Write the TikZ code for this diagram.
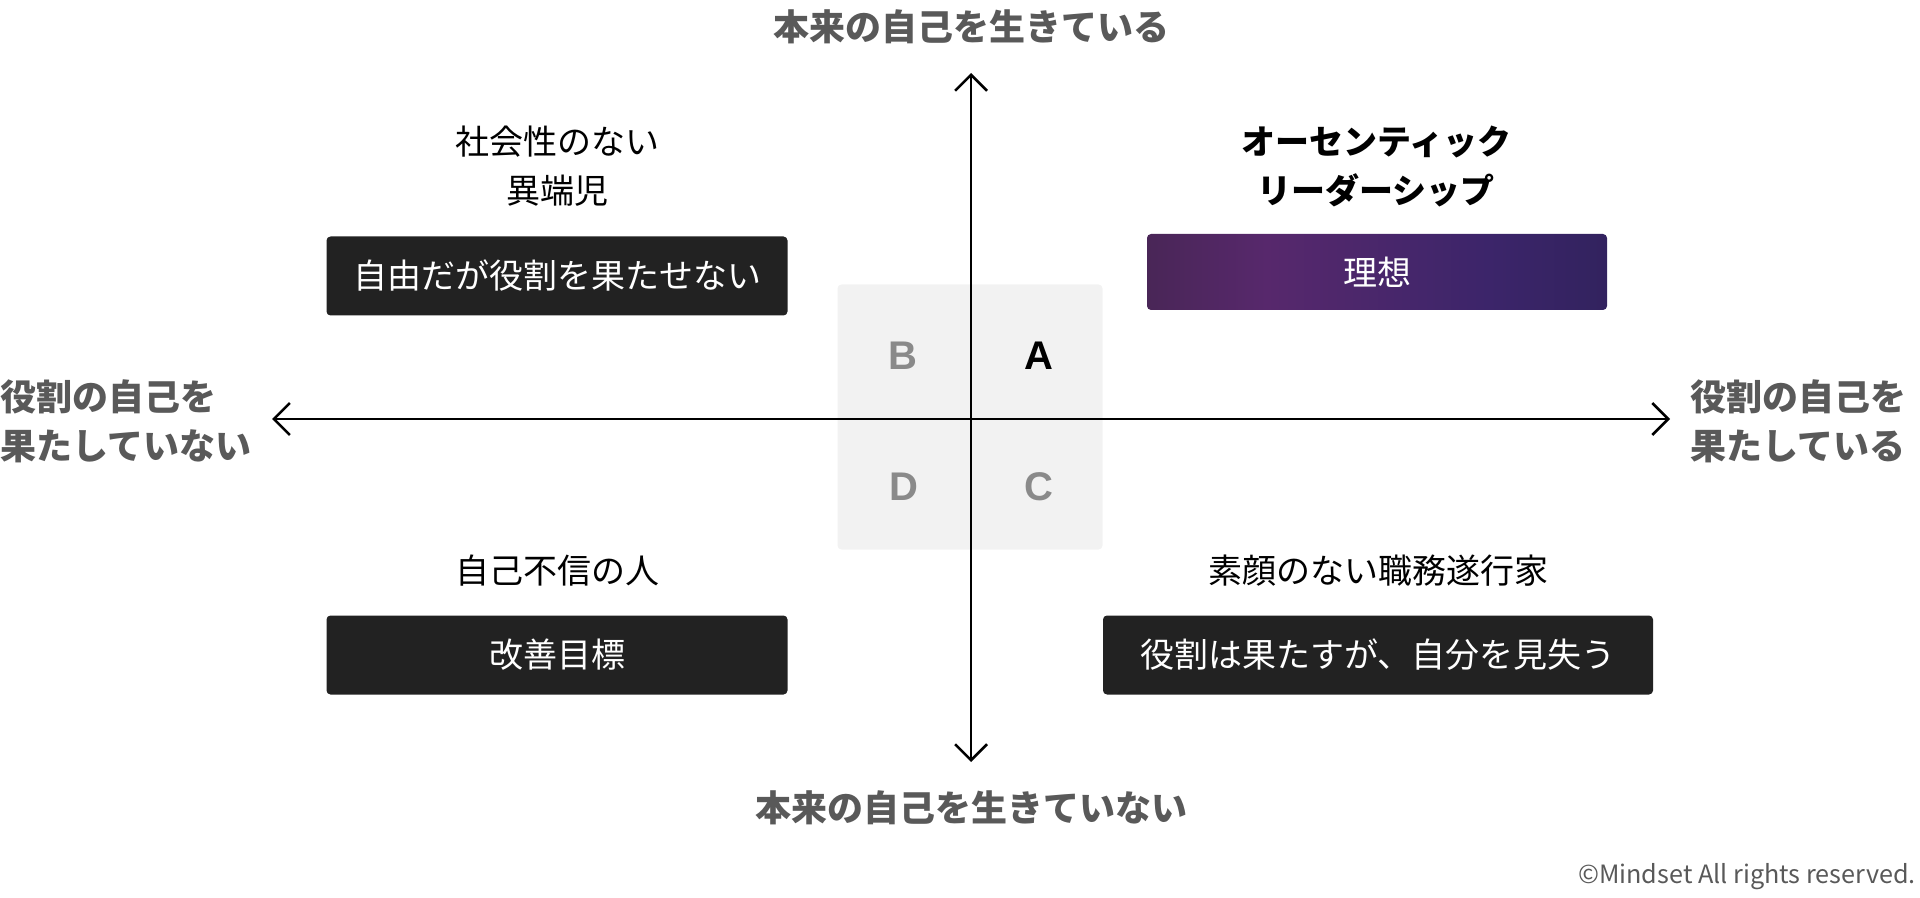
\documentclass[tikz,border=0pt]{standalone}
\usepackage{fontspec}
\setmainfont{Noto Sans CJK JP}
\newfontfamily\latinfont{Liberation Sans}
\usetikzlibrary{positioning,arrows.meta}
\definecolor{boxgray}{HTML}{222222}
\definecolor{axisgray}{HTML}{595959}
\definecolor{lettergray}{HTML}{8A8A8A}
\definecolor{squaregray}{HTML}{F2F2F2}
\definecolor{idealA}{HTML}{2F222E}
\definecolor{idealB}{HTML}{57286C}
\definecolor{idealC}{HTML}{3C256A}
\definecolor{idealD}{HTML}{1F1D48}
\pgfdeclarehorizontalshading{idealshade}{100bp}{color(0bp)=(idealA); color(38bp)=(idealB); color(62bp)=(idealC); color(100bp)=(idealD)}
\tikzset{darkbox/.style={fill=boxgray,rounded corners=2pt,text=white,minimum width=230.5pt,minimum height=39.5pt,inner sep=0pt,font=\fontsize{17pt}{20pt}\selectfont},
idealbox/.style={shading=idealshade,rounded corners=2pt,text=white,minimum width=230pt,minimum height=38pt,inner sep=0pt,font=\fontsize{17pt}{20pt}\selectfont},
qlabel/.style={align=center,inner sep=0pt,font=\fontsize{17pt}{24.5pt}\selectfont},
axislabel/.style={text=axisgray,inner sep=0pt,font=\bfseries\fontsize{18pt}{24.5pt}\selectfont},
letter/.style={text=lettergray,font=\latinfont\bfseries\fontsize{20pt}{24pt}\selectfont},
axis/.style={line width=1.25pt,{Straight Barb[length=8pt,width=16pt]}-{Straight Barb[length=8pt,width=16pt]}}}
\begin{document}
\begin{tikzpicture}[x=0.5pt,y=-0.5pt]
\useasboundingbox (0,0) rectangle (1920,898);

% centre square
\node[fill=squaregray,rounded corners=2pt,minimum size=132.5pt,inner sep=0pt] (sq) at (970,417) {};
\node[letter,text=black] (A) at (1039,356) {A};
\node[letter] (B) at (903,356) {B};
\node[letter] (C) at (1039,487) {C};
\node[letter] (D) at (904,487) {D};

% axes
\coordinate (top) at (971,73);
\coordinate (bottom) at (971,762);
\coordinate (left) at (272,419);
\coordinate (right) at (1670,419);
\draw[axis] (bottom) -- (top);
\draw[axis] (left) -- (right);

\node[axislabel] (toplabel) at (971,27) {本来の自己を生きている};
\node[axislabel] (bottomlabel) at (971,808) {本来の自己を生きていない};
\node[axislabel,align=left,anchor=west] (leftlabel) at (0,421) {役割の自己を\\果たしていない};
\node[axislabel,align=left,anchor=west] (rightlabel) at (1690,421) {役割の自己を\\果たしている};

% quadrants
\node[qlabel] (heretic) at (557,166) {社会性のない\\異端児};
\node[darkbox] (free) at (557,276) {自由だが役割を果たせない};
\node[qlabel,font=\bfseries\fontsize{17pt}{24.5pt}\selectfont] (leader) at (1376,166) {オーセンティック\\リーダーシップ};
\node[idealbox] (ideal) at (1377,272) {理想};
\node[qlabel] (distrust) at (557,571) {自己不信の人};
\node[darkbox] (improve) at (557,655) {改善目標};
\node[qlabel] (worker) at (1378,571) {素顔のない職務遂行家};
\node[darkbox,minimum width=275pt] (lost) at (1378,655) {役割は果たすが、自分を見失う};

\node[text=axisgray,anchor=east,inner sep=0pt,font=\fontsize{12.6pt}{15pt}\selectfont] (copy) at (1916,877) {©Mindset All rights reserved.};
\end{tikzpicture}
\end{document}
